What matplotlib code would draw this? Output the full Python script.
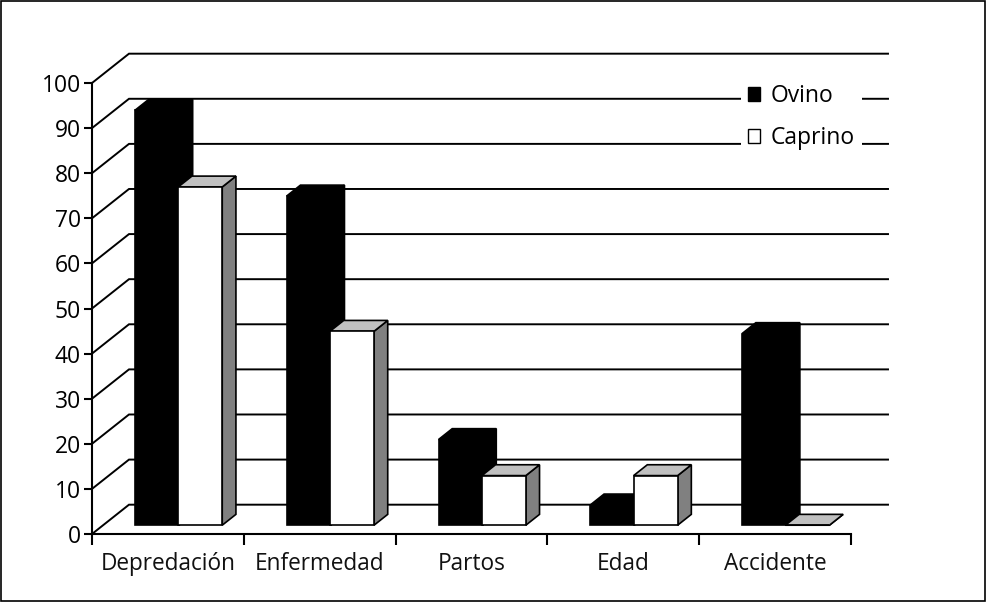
"""Causes of livestock loss: pseudo-3D column chart, Ovino vs Caprino."""

import matplotlib
matplotlib.use('Agg')
import matplotlib.pyplot as plt
from matplotlib.patches import Patch, Polygon, Rectangle

categories = ['Depredación', 'Enfermedad', 'Partos', 'Edad', 'Accidente']
ovino = [92, 73, 19, 4.5, 42.5]
caprino = [75, 43, 11, 11, 0]
y_ticks = list(range(0, 101, 10))

# how far one unit of depth shifts a point, in data units
DX = 0.2437
DY = 6.5
BAR_DEPTH = (0.30, 0.67)
BAR_WIDTH = 0.29
BAR_START = 0.283

plt.rcParams['font.family'] = ['Open Sans', 'DejaVu Sans']

fig = plt.figure(figsize=(9.87, 6.02), dpi=100)
ax = fig.add_axes([92 / 987, 68 / 602, 759 / 987, 451 / 602])
ax.set_xlim(0, len(categories))
ax.set_ylim(0, 100)
ax.patch.set_visible(False)
for name in ['top', 'right']:
    ax.spines[name].set_visible(False)
for name in ['left', 'bottom']:
    ax.spines[name].set_linewidth(1.5)

# gridlines: diagonal on the side wall, then flat along the back wall
for v in y_ticks:
    ax.plot([0, DX, len(categories) + DX], [v, v + DY, v + DY], color='black',
            lw=1.4, clip_on=False, zorder=1, solid_joinstyle='miter')


def draw_bar(x0, value, face, zorder):
    x1 = x0 + BAR_WIDTH
    d0, d1 = BAR_DEPTH
    off_x0, off_y0 = d0 * DX, d0 * DY
    off_x1, off_y1 = d1 * DX, d1 * DY
    front = [(x0 + off_x0, off_y0), (x1 + off_x0, off_y0),
             (x1 + off_x0, value + off_y0), (x0 + off_x0, value + off_y0)]
    top = [(x0 + off_x0, value + off_y0), (x1 + off_x0, value + off_y0),
           (x1 + off_x1, value + off_y1), (x0 + off_x1, value + off_y1)]
    side = [(x1 + off_x0, off_y0), (x1 + off_x1, off_y1),
            (x1 + off_x1, value + off_y1), (x1 + off_x0, value + off_y0)]
    colors = {'black': ('black', 'black', 'black'),
              'white': ('white', '#c0c0c0', '#808080')}[face]
    for pts, c in zip([side, top, front], colors[::-1]):
        ax.add_patch(Polygon(pts, closed=True, facecolor=c, edgecolor='black',
                             lw=1.2, clip_on=False, zorder=zorder,
                             joinstyle='miter'))


for i in range(len(categories)):
    draw_bar(i + BAR_START - 0.30 * DX, ovino[i], 'black', 3 + i)
    draw_bar(i + BAR_START - 0.30 * DX + BAR_WIDTH - 0.005, caprino[i], 'white', 3 + i)

ax.set_xticks(range(len(categories) + 1))
ax.set_xticklabels([])
for i, name in enumerate(categories):
    ax.text(i + 0.5, -4.0, name, ha='center', va='top', fontsize=16.3,
            color='#111111')
ax.set_yticks(y_ticks)
ax.tick_params(axis='y', length=6, width=1.5, labelsize=16.5, pad=2)
ax.tick_params(axis='x', length=8, width=1.5)

handles = [Patch(facecolor='black', edgecolor='black', label='Ovino'),
           Patch(facecolor='white', edgecolor='black', label='Caprino')]
leg = ax.legend(handles=handles, loc='upper left',
                bbox_to_anchor=(649 / 759, 1.013), fontsize=16.5,
                frameon=True, framealpha=1, edgecolor='none', fancybox=False,
                handlelength=0.55, handleheight=0.55, handletextpad=0.46,
                labelspacing=0.78, borderpad=0.3, borderaxespad=0)
leg.set_zorder(20)

# outer frame of the picture
fig.add_artist(Rectangle((0.001, 0.001), 0.997, 0.998, transform=fig.transFigure,
                         fill=False, edgecolor='black', lw=1.2))

fig.savefig('out.png', dpi=100, facecolor='white')
